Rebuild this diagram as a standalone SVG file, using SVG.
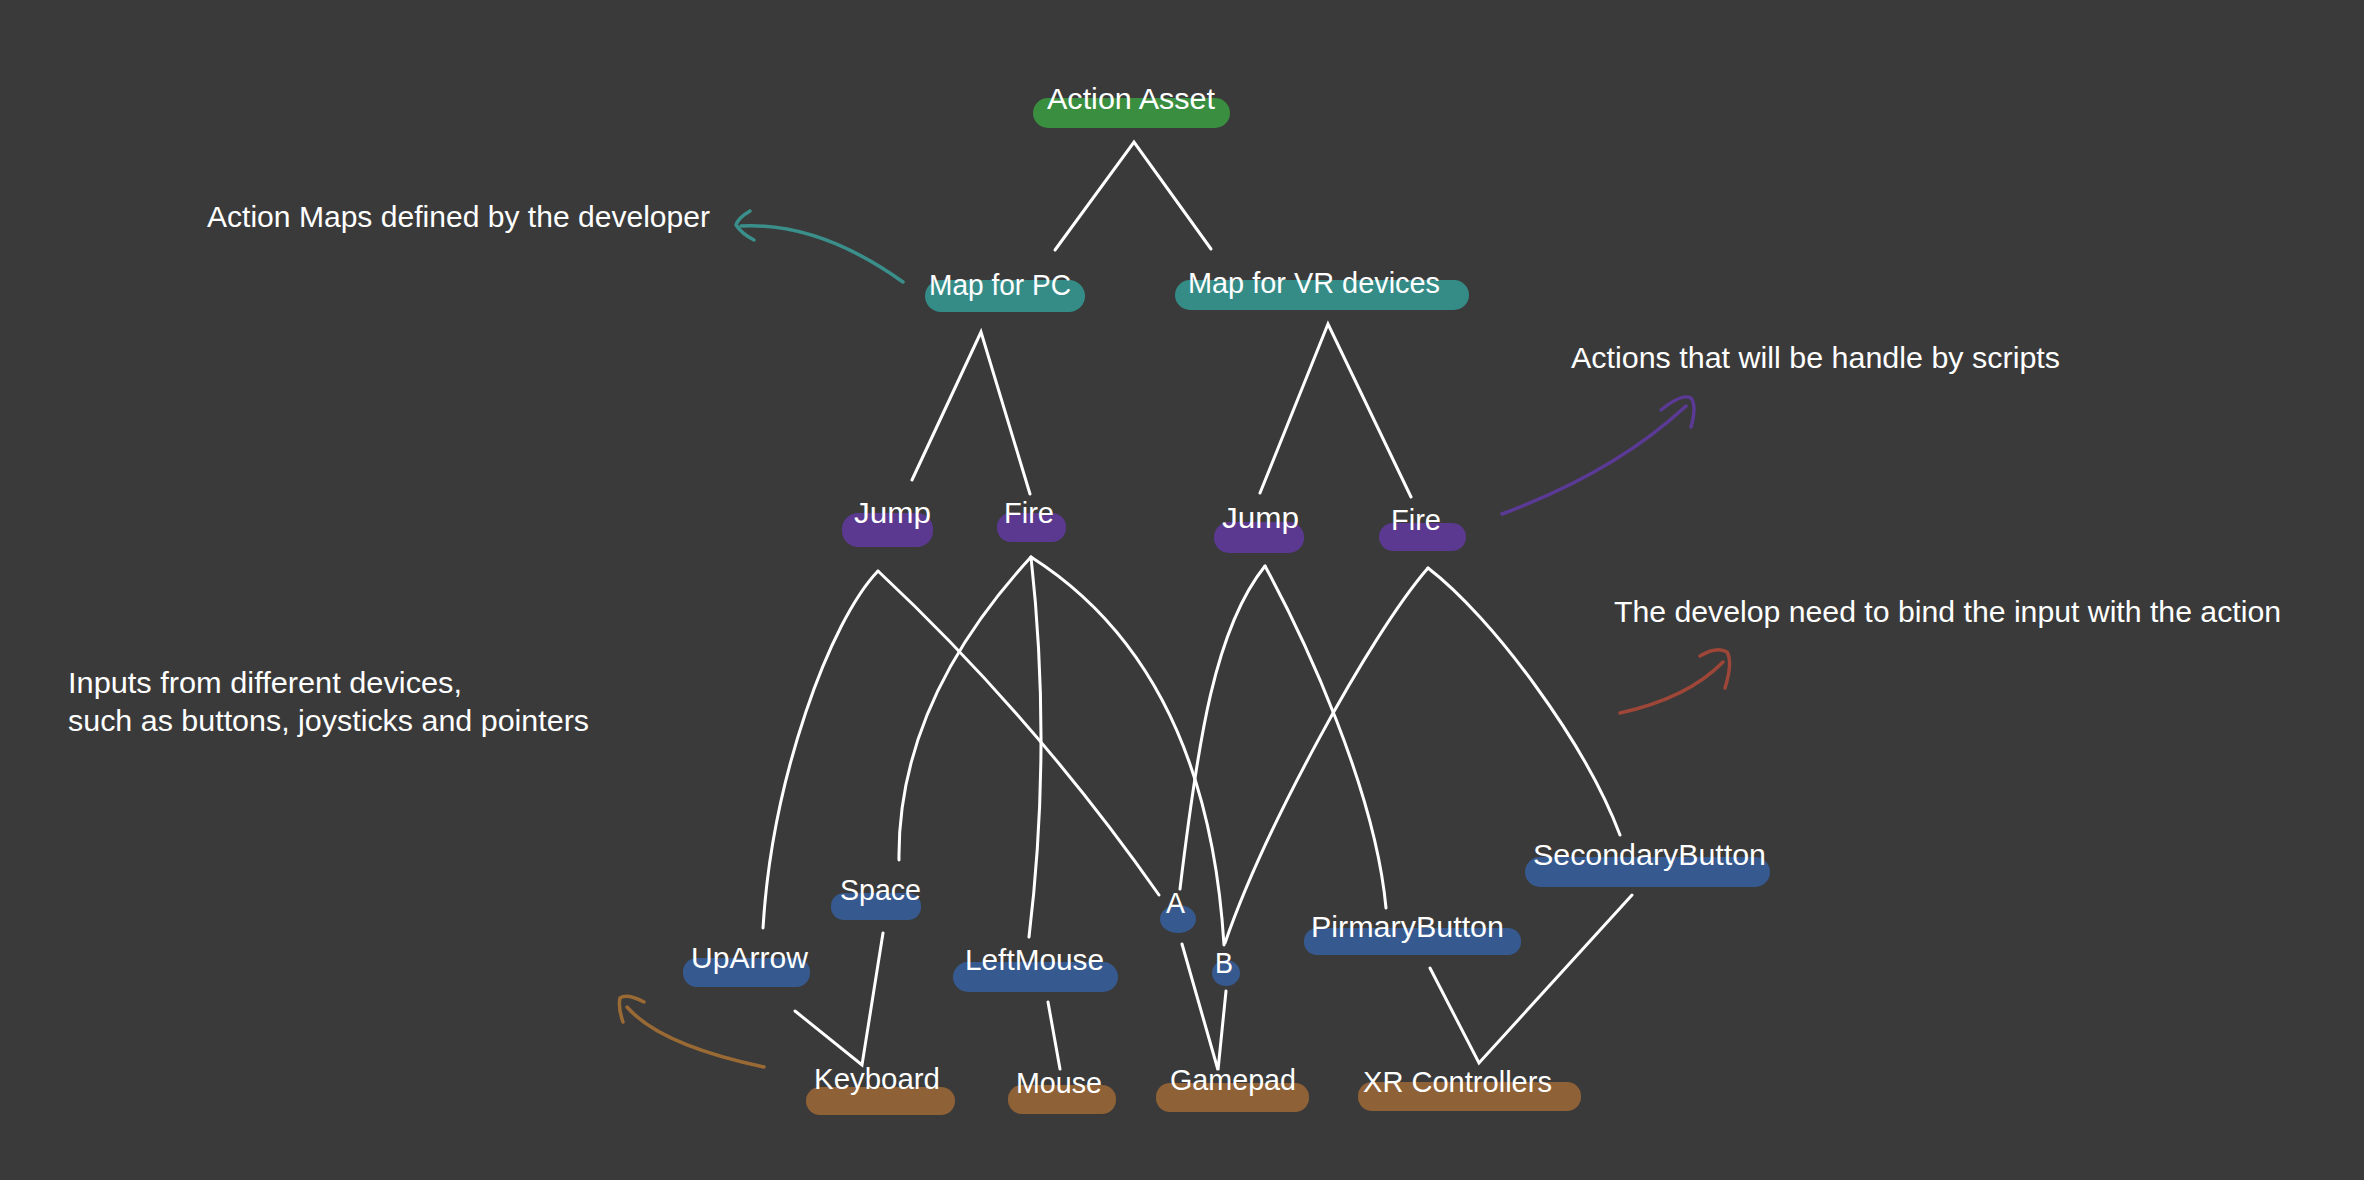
<svg xmlns="http://www.w3.org/2000/svg" width="2364" height="1180" viewBox="0 0 2364 1180">
<style>
.t{font-family:"Liberation Sans",Arial,sans-serif;font-size:30px;fill:#ffffff}
.c{fill:none;stroke:#ffffff;stroke-width:3;stroke-linecap:round;stroke-linejoin:miter}
.ar{fill:none;stroke-width:3.5;stroke-linecap:round;stroke-linejoin:round}
.g{fill:#3a8e3f}.tl{fill:#358c87}.p{fill:#5b3990}.b{fill:#365a90}.br{fill:#8f6137}
</style>
<rect x="0" y="0" width="2364" height="1180" fill="#3a3a3a"/>

<g id="connectors">
<polyline class="c" points="1055,250 1134,142 1211,249"/>
<polyline class="c" points="912,480 981,332 1030,494"/>
<polyline class="c" points="1260,493 1328,324 1411,497"/>
<path class="c" d="M878,571 C830,621 772,778 763,928"/>
<path class="c" d="M878,571 Q1035,718 1159,895"/>
<path class="c" d="M1031,557 Q897,703 899,860"/>
<path class="c" d="M1031,557 Q1052,747 1029,937"/>
<path class="c" d="M1031,557 Q1207,669 1224,945"/>
<path class="c" d="M1265,566 C1215,628 1198,740 1180,889"/>
<path class="c" d="M1265,566 C1303,636 1375,788 1386,908"/>
<path class="c" d="M1428,568 C1369,636 1264,830 1225,943"/>
<path class="c" d="M1428,568 C1492,617 1585,742 1620,835"/>
<polyline class="c" points="795,1011 862,1065 883,933"/>
<line class="c" x1="1048" y1="1002" x2="1060" y2="1069"/>
<polyline class="c" points="1182,944 1218,1070 1226,991"/>
<polyline class="c" points="1430,968 1479,1063 1632,895"/>
</g>

<g id="annotations">
<g id="note-maps">
<path class="ar" stroke="#3a8f8a" d="M903,282 Q819,222 741,226"/>
<path class="ar" stroke="#3a8f8a" d="M750,211 Q738,218 736,225 Q742,234 754,240"/>
<text class="t" x="207" y="227" textLength="503" lengthAdjust="spacingAndGlyphs">Action Maps defined by the developer</text>
</g>
<g id="note-actions">
<path class="ar" stroke="#5b3a95" d="M1502,514 Q1615,472 1686,406"/>
<path class="ar" stroke="#5b3a95" d="M1661,410 Q1682,393 1691,398 Q1697,406 1691,427"/>
<text class="t" x="1571" y="368" textLength="489" lengthAdjust="spacingAndGlyphs">Actions that will be handle by scripts</text>
</g>
<g id="note-bind">
<path class="ar" stroke="#9e4638" d="M1620,713 Q1688,698 1723,662"/>
<path class="ar" stroke="#9e4638" d="M1700,656 Q1717,646 1727,652 Q1733,662 1725,688"/>
<text class="t" x="1614" y="622" textLength="667" lengthAdjust="spacingAndGlyphs">The develop need to bind the input with the action</text>
</g>
<g id="note-inputs">
<path class="ar" stroke="#9a6a35" d="M764,1067 Q660,1045 627,1007"/>
<path class="ar" stroke="#9a6a35" d="M644,1002 Q627,993 620,998 Q618,1008 623,1022"/>
<text class="t" x="68" y="693" textLength="394" lengthAdjust="spacingAndGlyphs">Inputs from different devices,</text>
<text class="t" x="68" y="731" textLength="521" lengthAdjust="spacingAndGlyphs">such as buttons, joysticks and pointers</text>
</g>
</g>

<g id="action-asset"><rect class="g" x="1033" y="98" width="197" height="30" rx="15"/><text class="t" x="1047" y="109" textLength="168" lengthAdjust="spacingAndGlyphs">Action Asset</text></g>
<g id="map-pc"><rect class="tl" x="925" y="280" width="160" height="32" rx="16"/><text class="t" x="929" y="295" textLength="142" lengthAdjust="spacingAndGlyphs">Map for PC</text></g>
<g id="map-vr"><rect class="tl" x="1175" y="280" width="294" height="30" rx="15"/><text class="t" x="1188" y="293" textLength="252" lengthAdjust="spacingAndGlyphs">Map for VR devices</text></g>
<g id="jump-pc"><rect class="p" x="842" y="513" width="91" height="34" rx="16"/><text class="t" x="854" y="523" textLength="77" lengthAdjust="spacingAndGlyphs">Jump</text></g>
<g id="fire-pc"><rect class="p" x="997" y="513" width="69" height="29" rx="14"/><text class="t" x="1004" y="523" textLength="50" lengthAdjust="spacingAndGlyphs">Fire</text></g>
<g id="jump-vr"><rect class="p" x="1214" y="522" width="90" height="31" rx="15"/><text class="t" x="1222" y="528" textLength="77" lengthAdjust="spacingAndGlyphs">Jump</text></g>
<g id="fire-vr"><rect class="p" x="1379" y="523" width="87" height="28" rx="14"/><text class="t" x="1391" y="530" textLength="50" lengthAdjust="spacingAndGlyphs">Fire</text></g>
<g id="space"><rect class="b" x="831" y="893" width="90" height="27" rx="13"/><text class="t" x="840" y="900" textLength="81" lengthAdjust="spacingAndGlyphs">Space</text></g>
<g id="uparrow"><rect class="b" x="683" y="958" width="127" height="29" rx="14"/><text class="t" x="691" y="968" textLength="117" lengthAdjust="spacingAndGlyphs">UpArrow</text></g>
<g id="leftmouse"><rect class="b" x="953" y="962" width="165" height="30" rx="15"/><text class="t" x="965" y="970" textLength="139" lengthAdjust="spacingAndGlyphs">LeftMouse</text></g>
<g id="a"><ellipse class="b" cx="1178" cy="919" rx="18" ry="14"/><text class="t" x="1166" y="913" textLength="19" lengthAdjust="spacingAndGlyphs">A</text></g>
<g id="b"><ellipse class="b" cx="1226" cy="973" rx="14" ry="13"/><text class="t" x="1215" y="973" textLength="18" lengthAdjust="spacingAndGlyphs">B</text></g>
<g id="primarybutton"><rect class="b" x="1304" y="928" width="217" height="27" rx="13"/><text class="t" x="1311" y="937" textLength="193" lengthAdjust="spacingAndGlyphs">PirmaryButton</text></g>
<g id="secondarybutton"><rect class="b" x="1525" y="857" width="245" height="30" rx="15"/><text class="t" x="1533" y="865" textLength="233" lengthAdjust="spacingAndGlyphs">SecondaryButton</text></g>
<g id="keyboard"><rect class="br" x="806" y="1087" width="149" height="28" rx="14"/><text class="t" x="814" y="1089" textLength="126" lengthAdjust="spacingAndGlyphs">Keyboard</text></g>
<g id="mouse"><rect class="br" x="1008" y="1085" width="108" height="29" rx="14"/><text class="t" x="1016" y="1093" textLength="86" lengthAdjust="spacingAndGlyphs">Mouse</text></g>
<g id="gamepad"><rect class="br" x="1156" y="1083" width="153" height="29" rx="14"/><text class="t" x="1170" y="1090" textLength="126" lengthAdjust="spacingAndGlyphs">Gamepad</text></g>
<g id="xr-controllers"><rect class="br" x="1358" y="1082" width="223" height="29" rx="14"/><text class="t" x="1363" y="1092" textLength="189" lengthAdjust="spacingAndGlyphs">XR Controllers</text></g>
</svg>
